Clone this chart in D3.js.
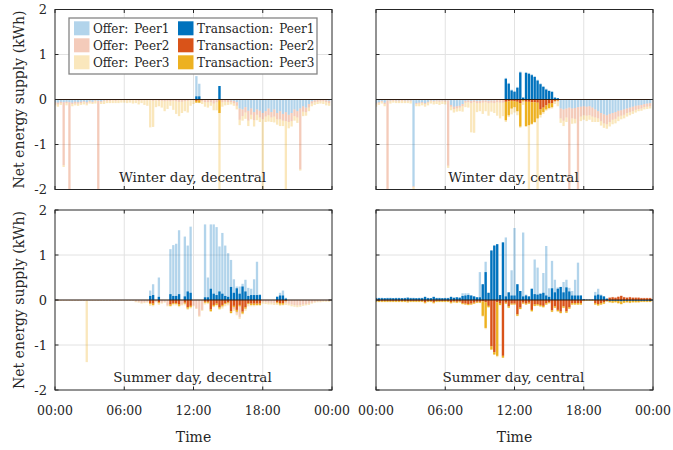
<!DOCTYPE html>
<html><head><meta charset="utf-8">
<script src="https://cdn.jsdelivr.net/npm/d3@7"></script>
<style>body{margin:0;background:#fff}svg{display:block}text{font-family:"DejaVu Serif",serif;fill:#262626}</style>
</head><body><svg id="c" width="673" height="450"></svg>
<script>
// ---------- data (kWh per 15-min slot, 96 slots) ----------
const slots = d3.range(96).map(i => i * 0.25); // hours
const xTicks = [0, 6, 12, 18, 24];
const xTickLabels = ["00:00", "06:00", "12:00", "18:00", "00:00"];
const yTicks = [-2, -1, 0, 1, 2];
const peers = ["Peer1", "Peer2", "Peer3"];
const titles = ["Winter day, decentral", "Winter day, central", "Summer day, decentral", "Summer day, central"];

// Winter, decentral
const wdOffer1 = [-.06,-.07,-.05,-.06,-.05,-.06,-.07,-.05,-.06,-.05,-.04,-.06, -.03,-.05,-.02,-.03,-.04,-.02,-.01,-.01,-.01,-.01,0,0, 0,0,0,0,0,0,0,0,0,0,0,0, 0,0,0,0,0,0,0,0,-.01,-.01,0,0, 0,.52,.35,-.01,-.01,0,-.01,-.01,0,.3,-.01,-.01, -.01,-.02,-.03,-.06,-.2,-.22,-.17,-.25,-.2,-.28,-.22,-.25, -.3,-.26,-.2,-.28,-.22,-.3,-.26,-.32,-.28,-.34,-.3,-.22, -.26,-.2,-.15,-.18,-.1,-.04,-.02,-.01,-.01,-.01,-.02,-.03];
const wdOffer2 = [-.03,-.04,-.03,-1.4,-.03,-2.5,-.03,-.04,-.03,-.03,-.02,-.03, -.02,-.02,-.02,-2.5,-.02,-.02,-.02,-.02,-.01,-.02,-.02,-.02, -.02,-.02,-.02,-.02,-.02,-.03,-.02,-.02,-.02,-.02,-.03,-.02, -.03,-.03,-.04,-.03,-.04,-.03,-.04,-.05,-.04,-.03,-.03,-.02, -.02,-.03,-.03,-.03,-.05,-.06,-.05,-.08,-.06,-.02,-.05,-.04, -.05,-.04,-.05,-.08,-.25,-.15,-.12,-.22,-.14,-.18,-.12,-.15, -.14,-.12,-.15,-.12,-.16,-.14,-.18,-.15,-.2,-.16,-.18,-.15, -.14,-1.35,-.12,-.1,-.08,-.05,-.04,-.04,-.03,-.03,-.04,-.05];
const wdOffer3 = [-.04,-.05,-.04,-.04,-.05,-.04,-.05,-.04,-.05,-.04,-.05,-.04, -.04,-.03,-.05,-.04,-.04,-.06,-.05,-.05,-.06,-.05,-.06,-.05, -.05,-.06,-.05,-.07,-.06,-.08,-.06,-.1,-.12,-.6,-.58,-.15, -.12,-.15,-.22,-.18,-.1,-.2,-.28,-.32,-.25,-.22,-.26,-.12, -.08,-.04,-.05,-.06,-.1,-.12,-.08,-.15,-.18,-2.5,-.1,-.08, -.06,-.05,-.06,-.08,-.12,-.1,-.14,-.12,-.1,-.14,-.12,-.1, -2.5,-.12,-.14,-.1,-.13,-.12,-.15,-.12,-2.5,-.14,-.12,-.1, -.12,-.03,-.1,-.08,-.08,-.06,-.06,-.05,-.05,-.06,-.07,-.06];
const wdTrans1 = [0,0,0,0,0,0,0,0,0,0,0,0, 0,0,0,0,0,0,0,0,0,0,0,0, 0,0,0,0,0,0,0,0,0,0,0,0, 0,0,0,0,0,0,0,0,0,0,0,0, 0,.07,.07,0,0,0,0,0,0,.3,0,0, 0,0,0,0,0,0,0,0,0,0,0,0, 0,0,0,0,0,0,0,0,0,0,0,0, 0,0,0,0,0,0,0,0,0,0,0,0];
const wdTrans2 = [0,0,0,0,0,0,0,0,0,0,0,0, 0,0,0,0,0,0,0,0,0,0,0,0, 0,0,0,0,0,0,0,0,0,0,0,0, 0,0,0,0,0,0,0,0,0,0,0,0, 0,-.03,-.02,0,0,0,0,0,0,-.02,0,0, 0,0,0,0,0,0,0,0,0,0,0,0, 0,0,0,0,0,0,0,0,0,0,0,0, 0,0,0,0,0,0,0,0,0,0,0,0];
const wdTrans3 = [0,0,0,0,0,0,0,0,0,0,0,0, 0,0,0,0,0,0,0,0,0,0,0,0, 0,0,0,0,0,0,0,0,0,0,0,0, 0,0,0,0,0,0,0,0,0,0,0,0, 0,-.04,-.05,0,0,0,0,0,0,-.28,0,0, 0,0,0,0,0,0,0,0,0,0,0,0, 0,0,0,0,0,0,0,0,0,0,0,0, 0,0,0,0,0,0,0,0,0,0,0,0];

// Winter, central
const wcOffer1 = [-.08,-.06,-.03,-.07,-.02,-.02,-.01,-.02,-.02,-.01,-.02,-.02, -.02,-1.93,-.08,-.07,-.06,-.08,-.05,-.02,-.03,-.02,-.02,-.02, -.02,-.02,-.12,-.16,-.15,-.14,-.1,-.03,-.02,-.03,-.02,-.03, -.03,-.02,-.02,-.03,-.02,-.02,-.01,-.01,-.01,.48,.37,.22, .19,.28,.62,.05,.61,.59,.56,.52,.44,.36,.3,.24, .2,.18,.05,.03,-.2,-.22,-.2,-.18,-.2,-.19,-.17,-.16, -.15,-.16,-.15,-.18,-.22,-.26,-.3,-.33,-.35,-.32,-.3,-.28, -.25,-.24,-.22,-.2,-.18,-.16,-.14,-.13,-.12,-.1,-.09,-.08];
const wcOffer2 = [-.03,-.02,-.02,-.03,-2.5,-.02,-.02,-.02,-.02,-.02,-.02,-.02, -.02,-.02,-.02,-.02,-.02,-.02,-.02,-.02,-.02,-.02,-.03,-.02, -.03,-1.45,-.04,-.05,-.05,-.04,-.05,-.04,-.04,-.05,-.04,-.05, -.05,-.05,-.04,-.05,-.05,-.06,-.05,-.06,-.06,-.05,-.04,-.03, -.04,-.05,-.08,-.02,-.05,-.05,-.06,-.06,-.07,-.25,-.2,-.15, -.1,-.1,-.05,-.05,-.22,-.25,-.2,-2.5,-.22,-.24,-2.5,-.22, -.2,-.2,-.2,-.2,-.18,-.16,-.18,-.2,-.2,-.18,-.15,-.15, -.13,-.12,-.12,-.1,-.1,-.1,-.09,-.08,-.08,-.07,-.07,-.07];
const wcOffer3 = [-.05,-.04,-.04,-.05,-.04,-.05,-.04,-.04,-.04,-.05,-.04,-.04, -.05,-.05,-.05,-.06,-.05,-.06,-.06,-.05,-.06,-.06,-.07,-.06, -.06,-.05,-.08,-.08,-.07,-.08,-.12,-.1,-.12,-.65,-.68,-.2, -.18,-.25,-.2,-.28,-.2,-.22,-.3,-.35,-.3,-.45,-.35,-.3, -.25,-.3,-.55,-.1,-.56,-2.5,-.5,-.46,-2.5,-.15,-.12,-.1, -.12,-.1,-.05,-.1,-.1,-.12,-.1,-.12,-.12,-.1,-.12,-.1, -.1,-.12,-.1,-.12,-.1,-.08,-.1,-.1,-.1,-.1,-.1,-.1, -.1,-.08,-.08,-.08,-.07,-.06,-.06,-.05,-.05,-.05,-.05,-.05];
const wcTrans1 = [0,0,0,0,0,0,0,0,0,0,0,0, 0,0,0,0,0,0,0,0,0,0,0,0, 0,0,0,0,0,0,0,0,0,0,0,0, 0,0,0,0,0,0,0,0,0,.46,.35,.2, .17,.26,.6,.04,.59,.57,.54,.5,.42,.34,.28,.22, .19,.17,.04,.03,0,0,0,0,0,0,0,0, 0,0,0,0,0,0,0,0,0,0,0,0, 0,0,0,0,0,0,0,0,0,0,0,0];
const wcTrans2 = [0,0,0,0,0,0,0,0,0,0,0,0, 0,0,0,0,0,0,0,0,0,0,0,0, 0,0,0,0,0,0,0,0,0,0,0,0, 0,0,0,0,0,0,0,0,0,-.05,-.04,-.03, -.04,-.05,-.08,-.02,-.05,-.05,-.06,-.06,-.07,-.22,-.18,-.13, -.09,-.08,-.03,-.02,0,0,0,0,0,0,0,0, 0,0,0,0,0,0,0,0,0,0,0,0, 0,0,0,0,0,0,0,0,0,0,0,0];
const wcTrans3 = [0,0,0,0,0,0,0,0,0,0,0,0, 0,0,0,0,0,0,0,0,0,0,0,0, 0,0,0,0,0,0,0,0,0,0,0,0, 0,0,0,0,0,0,0,0,0,-.41,-.31,-.17, -.13,-.21,-.52,-.02,-.54,-.52,-.48,-.44,-.35,-.12,-.1,-.09, -.1,-.09,-.01,-.01,0,0,0,0,0,0,0,0, 0,0,0,0,0,0,0,0,0,0,0,0, 0,0,0,0,0,0,0,0,0,0,0,0];

// Summer, decentral
const sdOffer1 = [0,0,0,0,0,0,0,0,0,0,0,0, 0,0,0,0,0,0,0,0,0,0,0,0, 0,0,0,0,0,0,0,0,0,.21,.35,0, .5,0,0,0,1.13,1.22,1.25,1.55,0,1.41,1.21,1.63, 0,0,0,0,1.68,.5,1.68,1.68,1.62,1.19,1.49,1.21, 1.04,.89,.46,.3,.3,.36,.45,.27,.25,.46,.85,.13, 0,0,0,0,0,.08,.16,.21,.05,0,0,0, 0,0,0,0,0,0,0,0,0,0,0,0];
const sdOffer2 = [-.01,-.01,-.01,-.01,-.01,-.01,-.01,-.01,-.01,-.01,-.01,-.01, -.01,-.01,-.01,-.01,-.01,-.01,-.01,-.01,-.01,-.01,-.01,-.01, -.01,-.01,-.01,-.01,-.03,-.04,-.06,-.05,-.04,-.09,-.1,-.03, -.07,-.06,-.04,-.12,-.11,-.08,-.08,-.12,-.1,-.08,-.18,-.15, -.12,-.18,-.35,-.22,-.06,-.05,-.22,-.12,-.1,-.18,-.15,-.1, -.08,-.26,-.2,-.3,-.38,-.28,-.2,-.1,-.1,-.1,-.09,-.09, -.04,-.05,-.06,-.06,-.07,-.07,-.09,-.08,-.07,-.08,-.1,-.11, -.12,-.11,-.1,-.09,-.08,-.06,-.04,-.03,-.03,-.02,-.02,-.02];
const sdOffer3 = [-.01,-.01,-.01,-.01,-.01,-.01,-.01,-.01,-.01,-.01,-.01,-1.37, -.01,-.01,-.01,-.01,-.01,-.01,-.01,-.01,-.01,-.01,-.01,-.01, -.01,-.01,-.01,-.01,-.02,-.02,-.02,-.02,-.02,-.04,-.04,-.02, -.04,-.02,-.02,-.02,-.04,-.04,-.04,-.04,-.02,-.04,-.04,-.04, -.02,-.02,-.02,-.02,-.04,-.04,-.04,-.04,-.04,-.04,-.04,-.04, -.04,-.04,-.04,-.04,-.04,-.04,-.04,-.04,-.04,-.04,-.04,-.04, -.04,-.04,-.04,-.04,-.04,-.04,-.04,-.04,-.04,-.04,-.04,-.04, -.04,-.04,-.03,-.03,-.03,-.02,-.02,-.02,-.02,-.02,-.02,-.02];
const sdTrans1 = [0,0,0,0,0,0,0,0,0,0,0,0, 0,0,0,0,0,0,0,0,0,0,0,0, 0,0,0,0,0,0,0,0,0,.09,.11,0, .07,0,0,0,.13,.09,.09,.13,0,.08,.19,.16, 0,0,0,0,.06,.06,.25,.14,.11,.19,.14,.09, .07,.29,.16,.26,.14,.3,.19,.09,.11,.11,.11,.11, 0,0,0,0,0,.07,.1,.1,.03,0,0,0, 0,0,0,0,0,0,0,0,0,0,0,0];
const sdTrans2 = [0,0,0,0,0,0,0,0,0,0,0,0, 0,0,0,0,0,0,0,0,0,0,0,0, 0,0,0,0,0,0,0,0,0,-.07,-.08,0, -.05,0,0,0,-.1,-.07,-.07,-.1,0,-.06,-.16,-.13, 0,0,0,0,-.04,-.04,-.21,-.11,-.08,-.16,-.11,-.07, -.05,-.25,-.13,-.22,-.11,-.26,-.16,-.07,-.08,-.08,-.08,-.08, 0,0,0,0,0,-.05,-.07,-.07,-.02,0,0,0, 0,0,0,0,0,0,0,0,0,0,0,0];
const sdTrans3 = [0,0,0,0,0,0,0,0,0,0,0,0, 0,0,0,0,0,0,0,0,0,0,0,0, 0,0,0,0,0,0,0,0,0,-.02,-.03,0, -.02,0,0,0,-.03,-.02,-.02,-.03,0,-.02,-.03,-.03, 0,0,0,0,-.02,-.02,-.04,-.03,-.03,-.03,-.03,-.02, -.02,-.04,-.03,-.04,-.03,-.04,-.03,-.02,-.03,-.03,-.03,-.03, 0,0,0,0,0,-.02,-.03,-.03,-.01,0,0,0, 0,0,0,0,0,0,0,0,0,0,0,0];

// Summer, central
const scOffer1 = [.05,.05,.05,.04,.05,.05,.04,.05,.05,.04,.05,.06, .05,.05,.04,.05,.05,.07,.05,.04,.07,.05,.05,.04, .05,.05,.07,.05,.06,.06,.15,.15,.15,.1,.08,.06, .62,.35,.85,.16,1.1,1.21,1.24,.11,1.28,1.39,.17,.66, 1.6,.35,.2,1.5,.12,.08,.25,.9,.72,.14,.6,1.2, .26,.87,.45,.28,.29,.4,.45,.27,.2,.45,.83,.1, .02,.01,.01,.01,.18,.25,.12,.08,.03,-.02,-.02,-.02, -.02,-.03,-.02,-.02,-.02,-.02,-.02,-.02,-.02,-.02,-.02,-.02];
const scOffer2 = [-.02,-.02,-.02,-.02,-.02,-.02,-.02,-.02,-.02,-.02,-.02,-.03, -.02,-.02,-.02,-.02,-.02,-.05,-.02,-.02,-.05,-.02,-.02,-.02, -.02,-.02,-.05,-.03,-.04,-.03,-.07,-.08,-.09,-.08,-.06,-.04, -.04,-.03,-.05,-.13,-1.03,-1.16,-.05,-.08,-1.24,-.06,-.14,-.08, -.08,-.32,-.17,-.06,-.08,-.06,-.22,-.1,-.09,-.11,-.13,-.07, -.05,-.23,-.14,-.22,-.26,-.14,-.25,-.16,-.07,-.07,-.07,-.07, -.01,0,0,0,-.07,-.09,-.07,-.05,-.02,.06,.07,.06, .08,.1,.07,.06,.07,.06,.06,.06,.05,.05,.05,.05];
const scOffer3 = [-.03,-.03,-.03,-.03,-.03,-.03,-.03,-.03,-.03,-.03,-.03,-.03, -.03,-.03,-.03,-.03,-.03,-.03,-.03,-.03,-.03,-.03,-.03,-.03, -.03,-.03,-.03,-.03,-.03,-.03,-.03,-.03,-.03,-.03,-.03,-.03, -.03,-.34,-.6,-.04,-.08,-.06,-1.22,-.04,-.05,-.03,-.04,-.03, -.03,-.04,-.04,-.03,-.03,-.03,-.04,-.04,-.04,-.04,-.04,-.04, -.03,-.04,-.04,-.04,-.04,-.04,-.04,-.04,-.04,-.04,-.04,-.04, -.02,-.02,-.02,-.02,-.04,-.04,-.04,-.04,-.02,-.04,-.05,-.04, -.06,-.07,-.05,-.04,-.05,-.04,-.04,-.04,-.03,-.03,-.03,-.03];
const scTrans1 = [.04,.04,.04,.04,.04,.04,.04,.04,.04,.04,.04,.05, .04,.04,.04,.04,.04,.07,.04,.04,.07,.04,.04,.04, .04,.04,.07,.05,.06,.05,.09,.1,.11,.1,.08,.06, .06,.35,.62,.16,1.1,1.21,1.24,.11,1.28,.08,.17,.1, .1,.35,.2,.08,.1,.08,.25,.13,.12,.14,.16,.1, .07,.26,.17,.25,.29,.17,.28,.19,.1,.1,.1,.1, .02,.01,.01,.01,.1,.12,.1,.08,.03,-.02,-.02,-.02, -.02,-.03,-.02,-.02,-.02,-.02,-.02,-.02,-.02,-.02,-.02,-.02];
const scTrans2 = [-.02,-.02,-.02,-.02,-.02,-.02,-.02,-.02,-.02,-.02,-.02,-.03, -.02,-.02,-.02,-.02,-.02,-.05,-.02,-.02,-.05,-.02,-.02,-.02, -.02,-.02,-.05,-.03,-.04,-.03,-.07,-.08,-.09,-.08,-.06,-.04, -.04,-.03,-.05,-.13,-1.03,-1.16,-.05,-.08,-1.24,-.06,-.14,-.08, -.08,-.32,-.17,-.06,-.08,-.06,-.22,-.1,-.09,-.11,-.13,-.07, -.05,-.23,-.14,-.22,-.26,-.14,-.25,-.16,-.07,-.07,-.07,-.07, -.01,0,0,0,-.07,-.09,-.07,-.05,-.02,.05,.06,.05, .07,.09,.06,.05,.06,.05,.05,.05,.04,.04,.04,.04];
const scTrans3 = [-.02,-.02,-.02,-.02,-.02,-.02,-.02,-.02,-.02,-.02,-.02,-.02, -.02,-.02,-.02,-.02,-.02,-.02,-.02,-.02,-.02,-.02,-.02,-.02, -.02,-.02,-.02,-.02,-.02,-.02,-.02,-.02,-.02,-.02,-.02,-.02, -.02,-.32,-.57,-.03,-.07,-.05,-1.19,-.03,-.04,-.02,-.03,-.02, -.02,-.03,-.03,-.02,-.02,-.02,-.03,-.03,-.03,-.03,-.03,-.03, -.02,-.03,-.03,-.03,-.03,-.03,-.03,-.03,-.03,-.03,-.03,-.03, -.01,-.01,-.01,-.01,-.03,-.03,-.03,-.03,-.01,-.03,-.04,-.03, -.05,-.06,-.04,-.03,-.04,-.03,-.03,-.03,-.02,-.02,-.02,-.02];

const panelData = [
  {offer: [wdOffer1, wdOffer2, wdOffer3], trans: [wdTrans1, wdTrans2, wdTrans3]},
  {offer: [wcOffer1, wcOffer2, wcOffer3], trans: [wcTrans1, wcTrans2, wcTrans3]},
  {offer: [sdOffer1, sdOffer2, sdOffer3], trans: [sdTrans1, sdTrans2, sdTrans3]},
  {offer: [scOffer1, scOffer2, scOffer3], trans: [scTrans1, scTrans2, scTrans3]}
];

// ---------- layout / style ----------
const colors = ["#0072BD", "#D95319", "#EDB120"];
const W = 277, H = 180;
const frames = [{l: 55, t: 9.5}, {l: 376, t: 9.5}, {l: 55, t: 210}, {l: 376, t: 210}];
const svg = d3.select("#c");
const keys = ["p1", "p2", "p3"];
const stacker = d3.stack().keys(keys).offset(d3.stackOffsetDiverging);

function rows(arrs) {
  return slots.map((h, i) => ({h: h, p1: arrs[0][i], p2: arrs[1][i], p3: arrs[2][i]}));
}

frames.forEach((f, pi) => {
  const x = d3.scaleLinear().domain([0, 24]).range([f.l, f.l + W]);
  const y = d3.scaleLinear().domain([-2, 2]).range([f.t + H, f.t]);
  const g = svg.append("g");
  const cid = "clip" + pi;
  svg.append("clipPath").attr("id", cid).append("rect")
    .attr("x", f.l).attr("y", f.t).attr("width", W).attr("height", H);

  // grid
  const grid = g.append("g").attr("stroke", "#e2e2e2").attr("stroke-width", 1);
  xTicks.slice(1, -1).forEach(v => grid.append("line").attr("x1", x(v)).attr("x2", x(v)).attr("y1", f.t).attr("y2", f.t + H));
  yTicks.slice(1, -1).forEach(v => grid.append("line").attr("x1", f.l).attr("x2", f.l + W).attr("y1", y(v)).attr("y2", y(v)));

  const bw = x(0.2) - x(0);
  const plot = g.append("g").attr("clip-path", `url(#${cid})`);
  const drawStack = (arrs, light) => {
    const st = stacker(rows(arrs));
    st.forEach((layer, s) => {
      plot.append("g").attr("fill", colors[s]).attr("fill-opacity", light ? 0.3 : 1)
        .selectAll("rect").data(layer.filter(d => d[1] - d[0] !== 0)).join("rect")
        .attr("x", d => x(d.data.h) - bw / 2)
        .attr("width", bw)
        .attr("y", d => y(Math.max(d[0], d[1])))
        .attr("height", d => Math.abs(y(d[0]) - y(d[1])));
    });
  };
  drawStack(panelData[pi].offer, true);
  drawStack(panelData[pi].trans, false);

  // zero baseline
  g.append("line").attr("x1", f.l).attr("x2", f.l + W).attr("y1", y(0)).attr("y2", y(0))
    .attr("stroke", "#2e1d12").attr("stroke-width", 1.2);

  // box + inward ticks
  const ax = g.append("g").attr("stroke", "#262626").attr("stroke-width", 1).attr("fill", "none");
  ax.append("rect").attr("x", f.l).attr("y", f.t).attr("width", W).attr("height", H);
  const tl = 3.5;
  xTicks.forEach(v => {
    ax.append("line").attr("x1", x(v)).attr("x2", x(v)).attr("y1", f.t + H).attr("y2", f.t + H - tl);
    ax.append("line").attr("x1", x(v)).attr("x2", x(v)).attr("y1", f.t).attr("y2", f.t + tl);
  });
  yTicks.forEach(v => {
    ax.append("line").attr("x1", f.l).attr("x2", f.l + tl).attr("y1", y(v)).attr("y2", y(v));
    ax.append("line").attr("x1", f.l + W).attr("x2", f.l + W - tl).attr("y1", y(v)).attr("y2", y(v));
  });

  // tick labels
  if (pi % 2 === 0) {
    yTicks.forEach(v => g.append("text").attr("x", f.l - 8).attr("y", y(v) + 4.5)
      .attr("text-anchor", "end").attr("font-size", 13).text(String(v)));
    g.append("text").attr("transform", `translate(24,${f.t + H / 2}) rotate(-90)`)
      .attr("text-anchor", "middle").attr("font-size", 14).text("Net energy supply (kWh)");
  }
  if (pi >= 2) {
    xTicks.forEach((v, k) => g.append("text").attr("x", x(v)).attr("y", f.t + H + 24.5)
      .attr("text-anchor", "middle").attr("font-size", 12.5).text(xTickLabels[k]));
    g.append("text").attr("x", f.l + W / 2).attr("y", f.t + H + 52)
      .attr("text-anchor", "middle").attr("font-size", 14).text("Time");
  }
  // panel title
  g.append("text").attr("x", f.l + W / 2 - 1).attr("y", f.t + H - 8)
    .attr("text-anchor", "middle").attr("font-size", 13.5).text(titles[pi]);
});

// legend
const lg = svg.append("g");
lg.append("rect").attr("x", 69).attr("y", 18).attr("width", 248).attr("height", 56)
  .attr("fill", "#fff").attr("stroke", "#858585").attr("stroke-width", 1.3);
const cols = [{sx: 74, tx: 93, label: "Offer:", light: true}, {sx: 178, tx: 197, label: "Transaction:", light: false}];
cols.forEach(c => {
  peers.forEach((p, r) => {
    const cy = 28.3 + r * 17;
    lg.append("rect").attr("x", c.sx).attr("y", cy - 7).attr("width", 15.5).attr("height", 14)
      .attr("fill", colors[r]).attr("fill-opacity", c.light ? 0.3 : 1);
    lg.append("text").attr("x", c.tx).attr("y", cy + 4.5).attr("font-size", 12)
      .attr("xml:space", "preserve").text(c.label + "\u2002" + p);
  });
});
</script>
</body></html>
